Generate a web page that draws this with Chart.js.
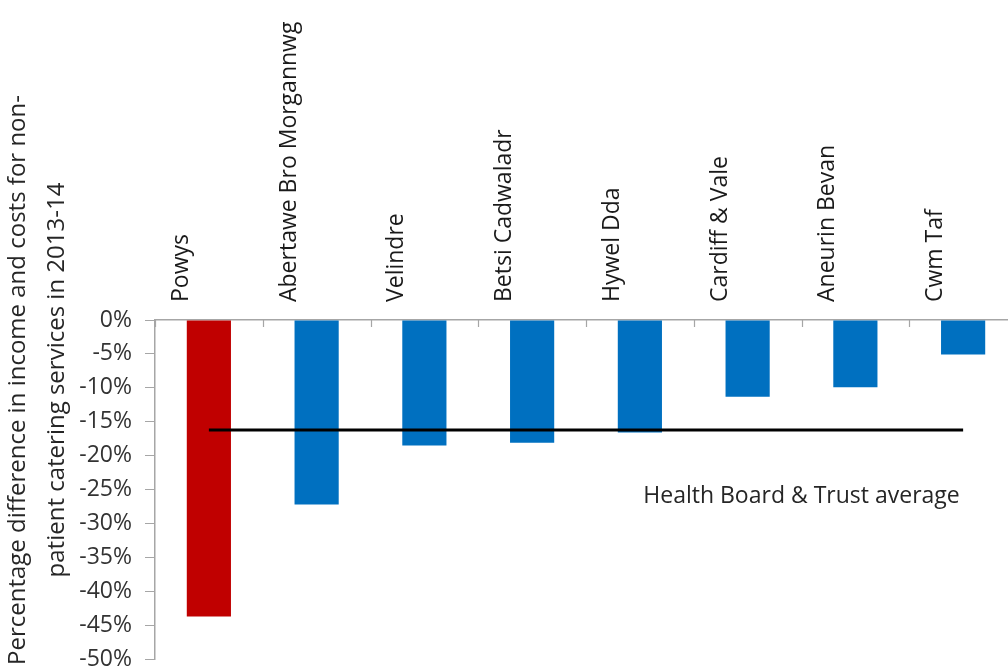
<!DOCTYPE html>
<html>
<head>
<meta charset="utf-8">
<script src="https://cdn.jsdelivr.net/npm/chart.js@4"></script>
<style>
  html, body { margin: 0; padding: 0; background: #fff; overflow: hidden; }
  #wrap { width: 1018px; height: 686px; }
</style>
</head>
<body>
<div id="wrap"><canvas id="chart"></canvas></div>
<script>
const categories = ["Powys", "Abertawe Bro Morgannwg", "Velindre", "Betsi Cadwaladr", "Hywel Dda", "Cardiff & Vale", "Aneurin Bevan", "Cwm Taf"];
const differences = [-43.7, -27.2, -18.5, -18.1, -16.6, -11.3, -9.9, -5.1];
const barColors = ["#c00000", "#0070c0", "#0070c0", "#0070c0", "#0070c0", "#0070c0", "#0070c0", "#0070c0"];
const averageValue = -16.2;
const averageLabel = "Health Board & Trust average";
const yTitleLines = ["Percentage difference in income and costs for non-", "patient catering services in 2013-14"];
const yMin = -50, yMax = 0, yStep = 5;

const FONT = "'Open Sans', sans-serif";

const extras = {
  id: "extras",
  afterDraw(chart) {
    const { ctx, scales } = chart;
    const x = scales.x, y = scales.y;
    ctx.save();
    // small tick marks on the category axis, pointing down
    ctx.strokeStyle = "#a6a6a6";
    ctx.lineWidth = 1.2;
    for (let i = 0; i <= categories.length; i++) {
      const px = Math.round(x.getPixelForValue(i - 0.5)) + 0.5;
      ctx.beginPath();
      ctx.moveTo(px, y.top);
      ctx.lineTo(px, y.top + 7);
      ctx.stroke();
    }
    // average label
    ctx.fillStyle = "#262626";
    ctx.font = "23px " + FONT;
    ctx.textAlign = "center";
    ctx.textBaseline = "middle";
    ctx.fillText(averageLabel, x.getPixelForValue(5.5), y.getPixelForValue(-26));
    // y axis title, two lines
    ctx.font = "24px " + FONT;
    ctx.translate(0, 380);
    ctx.rotate(-Math.PI / 2);
    ctx.fillText(yTitleLines[0], 0, 18);
    ctx.fillText(yTitleLines[1], 0, 57);
    ctx.restore();
  }
};

new Chart(document.getElementById("chart").getContext("2d"), {
  data: {
    labels: categories,
    datasets: [
      {
        type: "line",
        label: averageLabel,
        data: categories.map(() => averageValue),
        borderColor: "#000",
        borderWidth: 3,
        pointRadius: 0,
        order: 0,
      },
      {
        type: "bar",
        label: "Difference",
        data: differences,
        backgroundColor: barColors,
        barPercentage: 0.41,
        categoryPercentage: 1,
        order: 1,
      },
    ],
  },
  options: {
    responsive: true,
    maintainAspectRatio: false,
    animation: false,
    layout: { padding: { left: 0, right: 1, top: 0, bottom: 8 } },
    plugins: { legend: { display: false }, tooltip: { enabled: false } },
    scales: {
      x: {
        position: "top",
        offset: true,
        grid: { display: true, drawOnChartArea: false, drawTicks: false },
        border: { color: "#a6a6a6", width: 1.5 },
        ticks: {
          minRotation: 90,
          maxRotation: 90,
          autoSkip: false,
          padding: 18,
          color: "#1a1a1a",
          font: { family: FONT, size: 23 },
        },
        afterFit(scale) { scale.height = 320; },
      },
      y: {
        min: yMin,
        max: yMax,
        grid: { drawOnChartArea: false, drawTicks: true, tickLength: 10, color: "#a6a6a6" },
        border: { color: "#a6a6a6", width: 1.5 },
        ticks: {
          stepSize: yStep,
          padding: 13,
          color: "#333",
          font: { family: FONT, size: 23 },
          callback: (v) => v + "%",
        },
        afterFit(scale) { scale.width = 155; },
      },
    },
  },
  plugins: [extras],
});
</script>
</body>
</html>
